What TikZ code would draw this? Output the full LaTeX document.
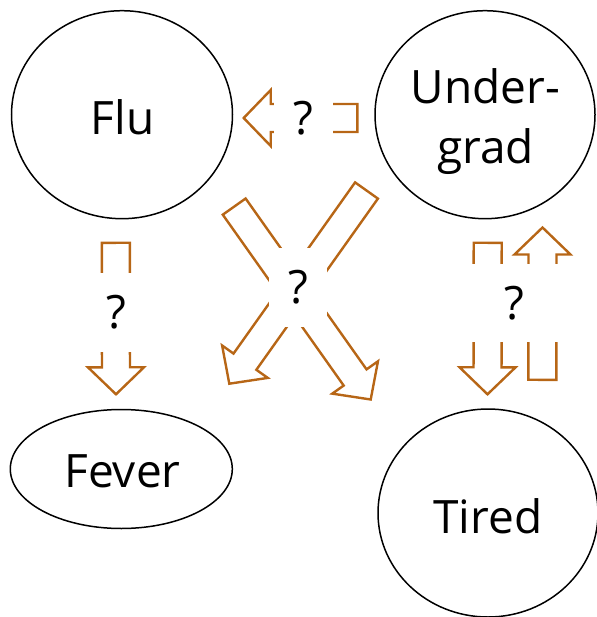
\documentclass[tikz,border=0pt]{standalone}
\usepackage{fontspec}
\setmainfont{Open Sans}
\usetikzlibrary{calc,shapes.geometric}
\definecolor{arrowbrown}{RGB}{183,102,22}

% Outlined block arrow from tail #1 to tip #2
\newcommand\blockarrow[2]{%
  \coordinate (hb) at ($(#2)!27pt!(#1)$);
  \draw[blockedge] ($(#1)!14pt!90:(#2)$) -- ($(hb)!14pt!-90:(#1)$)
    -- ($(hb)!28pt!-90:(#1)$) -- (#2) -- ($(hb)!28pt!90:(#1)$)
    -- ($(hb)!14pt!90:(#1)$) -- ($(#1)!14pt!-90:(#2)$) -- cycle;}

\begin{document}
\begin{tikzpicture}[x=1pt,y=-1pt,
  oval/.style={draw, ellipse, line width=1.5pt, inner sep=0pt},
  blockedge/.style={draw=arrowbrown, line width=2.4pt, line join=miter},
  word/.style={font=\fontsize{46}{60}\selectfont, inner sep=0pt, align=center},
  qbox/.style={word, fill=white, minimum height=79pt}]
\useasboundingbox (0,0) rectangle (596,617);

% variables
\node[oval, minimum width=221pt, minimum height=208pt] (flu) at (122,114.7) {};
\node[oval, minimum width=220pt, minimum height=208pt] (ugrad) at (485,114.7) {};
\node[oval, minimum width=222pt, minimum height=119pt] (fever) at (121.3,469) {};
\node[oval, minimum width=220pt, minimum height=208pt] (tired) at (488,513) {};

\node[word] (flutext) at (122.5,117.7) {Flu};
\node[word] (ugradtext) at (485.5,121.5) {Under-\\grad};
\node[word] (fevertext) at (122.5,471) {Fever};
\node[word] (tiredtext) at (488,516.7) {Tired};

% arrow ends
\coordinate (t1) at (357.4,118);  \coordinate (h1) at (243.7,118);
\coordinate (t2) at (115.8,242.8); \coordinate (h2) at (116,394.3);
\coordinate (t3) at (234.2,206.6); \coordinate (h3) at (370.7,399.5);
\coordinate (t4) at (366.5,190.5); \coordinate (h4) at (229.3,383.7);
\coordinate (t5) at (487.7,242.8); \coordinate (h5) at (487.5,394.3);
\coordinate (t6) at (542.4,379.8); \coordinate (h6) at (542.5,227.5);

\blockarrow{t1}{h1}
\blockarrow{t2}{h2}
\blockarrow{t3}{h3}
\blockarrow{t4}{h4}
\blockarrow{t5}{h5}
\blockarrow{t6}{h6}

% unknown links
\node[qbox, minimum width=59pt] (q1) at (303.5,118) {?};
\node[qbox, minimum width=58pt] (q2) at (116,312.5) {?};
\node[qbox, minimum width=58pt] (q3) at (298,287) {?};
\node[qbox, minimum width=100pt, minimum height=78pt] (q4) at (514,303) {?};
\end{tikzpicture}
\end{document}
